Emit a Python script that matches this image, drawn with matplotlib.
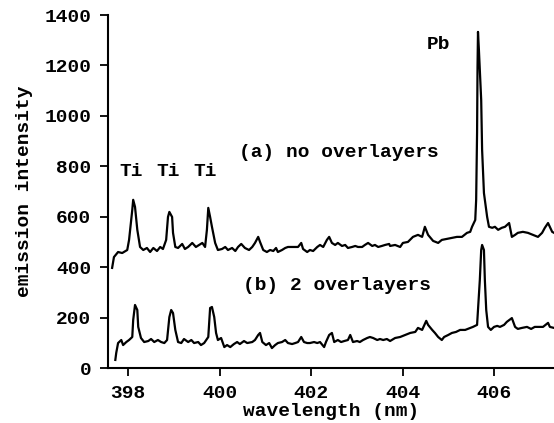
import matplotlib
matplotlib.use("Agg")
import matplotlib.pyplot as plt

# spectrum (a): no overlayers
wl_a = [397.65, 397.69, 397.78, 397.87, 397.98, 398.02, 398.09, 398.11, 398.15, 398.20,
        398.26, 398.33, 398.41, 398.48, 398.55, 398.63, 398.70, 398.76, 398.83, 398.87,
        398.90, 398.96, 398.98, 399.03, 399.09, 399.18, 399.24, 399.31, 399.40, 399.48,
        399.55, 399.62, 399.68, 399.72, 399.75, 399.79, 399.83, 399.90, 399.96, 400.05,
        400.12, 400.18, 400.27, 400.34, 400.40, 400.47, 400.55, 400.64, 400.71, 400.77,
        400.84, 400.88, 400.95, 401.03, 401.10, 401.17, 401.23, 401.27, 401.36, 401.43,
        401.49, 401.58, 401.65, 401.71, 401.78, 401.82, 401.91, 401.97, 402.04, 402.13,
        402.19, 402.26, 402.34, 402.39, 402.45, 402.52, 402.58, 402.67, 402.74, 402.80,
        402.89, 402.96, 403.02, 403.11, 403.17, 403.24, 403.33, 403.39, 403.46, 403.54,
        403.61, 403.70, 403.72, 403.83, 403.94, 404.00, 404.11, 404.22, 404.33, 404.42,
        404.48, 404.55, 404.66, 404.77, 404.85, 404.96, 405.07, 405.18, 405.29, 405.40,
        405.47, 405.51, 405.58, 405.60, 405.62, 405.63, 405.64, 405.66, 405.71, 405.73,
        405.77, 405.84, 405.88, 405.95, 406.01, 406.08, 406.16, 406.23, 406.32, 406.38,
        406.45, 406.51, 406.62, 406.73, 406.84, 406.95, 407.04, 407.10, 407.17, 407.26,
        407.30]
int_a = [397, 440, 460, 456, 468, 508, 627, 667, 639, 548,
         480, 468, 476, 460, 476, 464, 480, 472, 508, 599,
         619, 599, 536, 480, 476, 492, 472, 480, 496, 480,
         488, 496, 480, 548, 635, 599, 560, 496, 468, 472,
         480, 468, 476, 464, 480, 492, 476, 468, 480, 496,
         520, 500, 468, 460, 468, 464, 476, 460, 468, 476,
         480, 480, 480, 480, 496, 472, 460, 468, 464, 480,
         488, 480, 508, 520, 496, 488, 496, 484, 488, 476,
         480, 484, 480, 480, 488, 496, 484, 488, 480, 484,
         488, 492, 484, 488, 480, 496, 500, 520, 528, 520,
         560, 528, 504, 496, 508, 512, 516, 520, 520, 536,
         540, 560, 587, 667, 933, 1194, 1333, 1262, 1063, 865,
         694, 599, 560, 556, 560, 548, 556, 560, 575, 520,
         528, 536, 540, 536, 528, 520, 536, 556, 575, 540,
         536]

# spectrum (b): 2 overlayers
wl_b = [397.72, 397.74, 397.78, 397.85, 397.89, 397.96, 398.02, 398.09, 398.11, 398.15,
        398.20, 398.22, 398.28, 398.35, 398.44, 398.50, 398.57, 398.65, 398.72, 398.79,
        398.85, 398.90, 398.94, 398.98, 399.03, 399.09, 399.16, 399.22, 399.31, 399.38,
        399.44, 399.53, 399.59, 399.66, 399.75, 399.79, 399.83, 399.88, 399.92, 399.96,
        400.03, 400.10, 400.16, 400.23, 400.31, 400.38, 400.44, 400.53, 400.60, 400.71,
        400.77, 400.84, 400.88, 400.93, 401.01, 401.08, 401.14, 401.21, 401.27, 401.36,
        401.43, 401.49, 401.58, 401.65, 401.71, 401.78, 401.84, 401.91, 401.97, 402.06,
        402.13, 402.19, 402.28, 402.32, 402.39, 402.45, 402.50, 402.58, 402.65, 402.72,
        402.80, 402.85, 402.91, 403.00, 403.06, 403.13, 403.22, 403.28, 403.35, 403.44,
        403.50, 403.57, 403.65, 403.72, 403.83, 403.94, 404.05, 404.16, 404.27, 404.33,
        404.42, 404.51, 404.55, 404.64, 404.70, 404.77, 404.85, 404.90, 404.99, 405.07,
        405.16, 405.25, 405.36, 405.47, 405.53, 405.62, 405.64, 405.68, 405.71, 405.73,
        405.77, 405.79, 405.82, 405.86, 405.92, 405.99, 406.06, 406.12, 406.21, 406.27,
        406.38, 406.45, 406.51, 406.60, 406.71, 406.80, 406.88, 406.97, 407.06, 407.17,
        407.21, 407.30]
int_b = [32, 60, 99, 111, 91, 103, 111, 123, 190, 250,
         230, 163, 119, 103, 107, 115, 103, 111, 103, 99,
         111, 202, 230, 218, 151, 103, 99, 115, 103, 111,
         99, 103, 91, 99, 123, 238, 242, 202, 139, 111,
         119, 83, 91, 83, 95, 103, 95, 107, 99, 103,
         111, 131, 139, 103, 91, 99, 79, 91, 99, 103,
         111, 99, 95, 99, 103, 123, 103, 99, 99, 103,
         99, 103, 83, 103, 131, 139, 103, 111, 103, 107,
         111, 131, 103, 107, 103, 111, 119, 123, 119, 111,
         115, 111, 115, 107, 119, 123, 131, 139, 143, 159,
         151, 187, 171, 151, 139, 123, 111, 123, 131, 139,
         143, 151, 151, 159, 163, 171, 230, 349, 468, 488,
         468, 349, 230, 163, 151, 163, 167, 163, 171, 183,
         198, 163, 155, 159, 163, 155, 163, 163, 163, 179,
         163, 159]

xticks = [398, 400, 402, 404, 406]
yticks = [0, 200, 400, 600, 800, 1000, 1200, 1400]

font = "Liberation Mono"
fs = 14

fig = plt.figure(figsize=(5.54, 4.23), dpi=100)
ax = fig.add_axes([108 / 554, 55 / 423, 446 / 554, 353 / 423])

ax.plot(wl_a, int_a, color="black", lw=1.6)
ax.plot(wl_b, int_b, color="black", lw=1.6)

ax.set_xlim(397.56, 407.3)
ax.set_ylim(0, 1400)
ax.set_xticks(xticks)
ax.set_yticks(yticks)
for s in ["top", "right"]:
    ax.spines[s].set_visible(False)
ax.spines["left"].set_linewidth(1.5)
ax.spines["bottom"].set_linewidth(1.5)
ax.tick_params(axis="y", length=6, width=1.3, pad=6)
ax.tick_params(axis="x", length=6, width=1.3, pad=6)
for lab in ax.get_xticklabels() + ax.get_yticklabels():
    lab.set_fontfamily(font)
    lab.set_fontweight("bold")
    lab.set_fontsize(fs)

ax.set_xlabel("wavelength (nm)", fontfamily=font, fontweight="bold", fontsize=fs, labelpad=1)
ax.set_ylabel("emission intensity", fontfamily=font, fontweight="bold", fontsize=fs, labelpad=8)

tk = dict(fontfamily=font, fontweight="bold", fontsize=fs)
for xt in [398.07, 398.87, 399.68]:
    ax.text(xt, 778, "Ti", ha="center", va="center", **tk)
ax.text(400.42, 853, "(a) no overlayers", ha="left", va="center", **tk)
ax.text(400.51, 329, "(b) 2 overlayers", ha="left", va="center", **tk)
ax.text(404.77, 1282, "Pb", ha="center", va="center", **tk)

fig.savefig("out.png", dpi=100)
